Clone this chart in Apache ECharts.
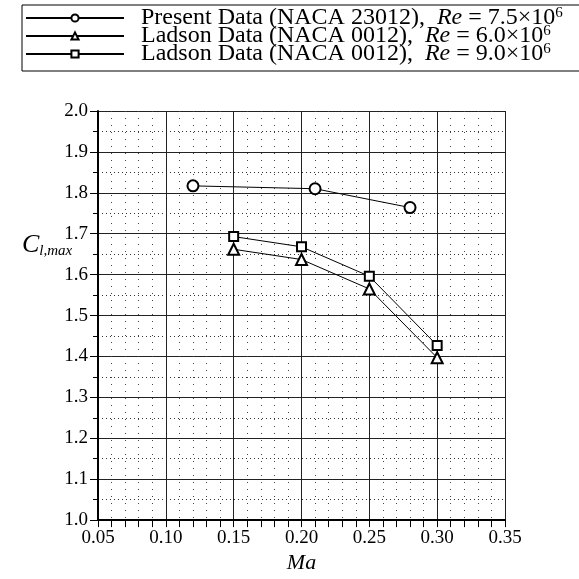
<!DOCTYPE html>
<html>
<head>
<meta charset="utf-8">
<script src="https://cdn.jsdelivr.net/npm/echarts@6/dist/echarts.min.js"></script>
<style>html,body{margin:0;padding:0;background:#fff;}#c{width:579px;height:579px;}</style>
</head>
<body>
<div id="c"></div>
<script>
var seriesNames = ['Present Data (NACA 23012)', 'Ladson Data (NACA 0012) 6.0', 'Ladson Data (NACA 0012) 9.0'];
var legendLabels = ['Present Data (NACA 23012),', 'Ladson Data (NACA 0012),', 'Ladson Data (NACA 0012),'];
var reValues = ['7.5', '6.0', '9.0'];
var presentMa = [0.12, 0.21, 0.28];
var presentCl = [1.817, 1.810, 1.764];
var ladson6Ma = [0.15, 0.20, 0.25, 0.30];
var ladson6Cl = [1.662, 1.637, 1.565, 1.397];
var ladson9Ma = [0.15, 0.20, 0.25, 0.30];
var ladson9Cl = [1.693, 1.668, 1.596, 1.427];
var xTicks = [0.05, 0.10, 0.15, 0.20, 0.25, 0.30, 0.35];
var yTicks = [1.0, 1.1, 1.2, 1.3, 1.4, 1.5, 1.6, 1.7, 1.8, 1.9, 2.0];

function pairs(xs, ys) { return xs.map(function (x, i) { return [x, ys[i]]; }); }
function nearest(list, v) { return list.reduce(function (a, b) { return Math.abs(b - v) < Math.abs(a - v) ? b : a; }); }

var font = 'Liberation Serif';
var chart = echarts.init(document.getElementById('c'), null, {renderer: 'canvas'});

function lineSeries(name, data, symbol, size) {
  return {
    name: name, type: 'line', data: data, symbol: symbol, symbolSize: size,
    lineStyle: {color: '#000', width: 1}, itemStyle: {color: '#000', borderColor: '#000', borderWidth: 1},
    showAllSymbol: true, animation: false, z: 5
  };
}

var option = {
  backgroundColor: '#fff',
  animation: false,
  grid: {left: 98, right: 74, top: 111, bottom: 53, containLabel: false},
  legend: {
    orient: 'vertical', left: 22, top: 5,
    itemWidth: 98, itemHeight: 9, itemGap: -6,
    borderColor: '#000', borderWidth: 1, borderRadius: 0,
    padding: [1, 60, 5, 3],
    itemStyle: {borderWidth: 1},
    data: seriesNames,
    formatter: function (name) {
      var i = seriesNames.indexOf(name);
      return '{n|' + legendLabels[i] + '  }{i|Re}{n| = ' + reValues[i] + '×10}{s|6}';
    },
    textStyle: {
      fontFamily: font, fontSize: 24, color: '#000', padding: [0, 0, 0, 12],
      rich: {
        n: {fontFamily: font, fontSize: 24, color: '#000'},
        i: {fontFamily: font, fontSize: 24, fontStyle: 'italic', color: '#000'},
        s: {fontFamily: font, fontSize: 15, color: '#000', verticalAlign: 'top'}
      }
    }
  },
  xAxis: {
    type: 'value', min: 0.05, max: 0.35, interval: 0.05,
    name: 'Ma', nameLocation: 'middle', nameGap: 31,
    nameTextStyle: {fontFamily: font, fontSize: 22, fontStyle: 'italic', color: '#000'},
    axisLine: {show: true, onZero: false, lineStyle: {color: '#000', width: 2}},
    axisTick: {show: true, inside: false, length: 7, lineStyle: {color: '#000', width: 1}},
    minorTick: {show: true, splitNumber: 5, length: 7, lineStyle: {color: '#000', width: 1}},
    axisLabel: {fontFamily: font, fontSize: 19, color: '#000', margin: 8,
      formatter: function (v) { return nearest(xTicks, v).toFixed(2); }},
    splitLine: {show: true, lineStyle: {color: '#222', width: 1}},
    minorSplitLine: {show: true, lineStyle: {color: '#444', width: 1, type: [1, 6]}}
  },
  yAxis: {
    type: 'value', min: 1.0, max: 2.0, interval: 0.1,
    axisLine: {show: true, onZero: false, lineStyle: {color: '#000', width: 2}},
    axisTick: {show: true, inside: false, length: 8, lineStyle: {color: '#000', width: 1}},
    minorTick: {show: true, splitNumber: 2, length: 5, lineStyle: {color: '#000', width: 1}},
    axisLabel: {fontFamily: font, fontSize: 19, color: '#000', margin: 10,
      formatter: function (v) { return nearest(yTicks, v).toFixed(1); }},
    splitLine: {show: true, lineStyle: {color: '#222', width: 1}},
    minorSplitLine: {show: true, lineStyle: {color: '#333', width: 1, type: [1, 3]}}
  },
  graphic: [{
    type: 'text', left: 22, top: 232,
    style: {
      text: '{c|C}{s|l,max}',
      rich: {
        c: {fontFamily: font, fontSize: 26, fontStyle: 'italic', fill: '#000'},
        s: {fontFamily: font, fontSize: 15, fontStyle: 'italic', fill: '#000', verticalAlign: 'bottom', padding: [12, 0, 0, 0]}
      }
    }
  }],
  series: [
    lineSeries(seriesNames[0], pairs(presentMa, presentCl), 'emptyCircle', 11),
    lineSeries(seriesNames[1], pairs(ladson6Ma, ladson6Cl), 'emptyTriangle', 11),
    lineSeries(seriesNames[2], pairs(ladson9Ma, ladson9Cl), 'emptyRect', 9)
  ]
};
chart.setOption(option);
</script>
</body>
</html>
